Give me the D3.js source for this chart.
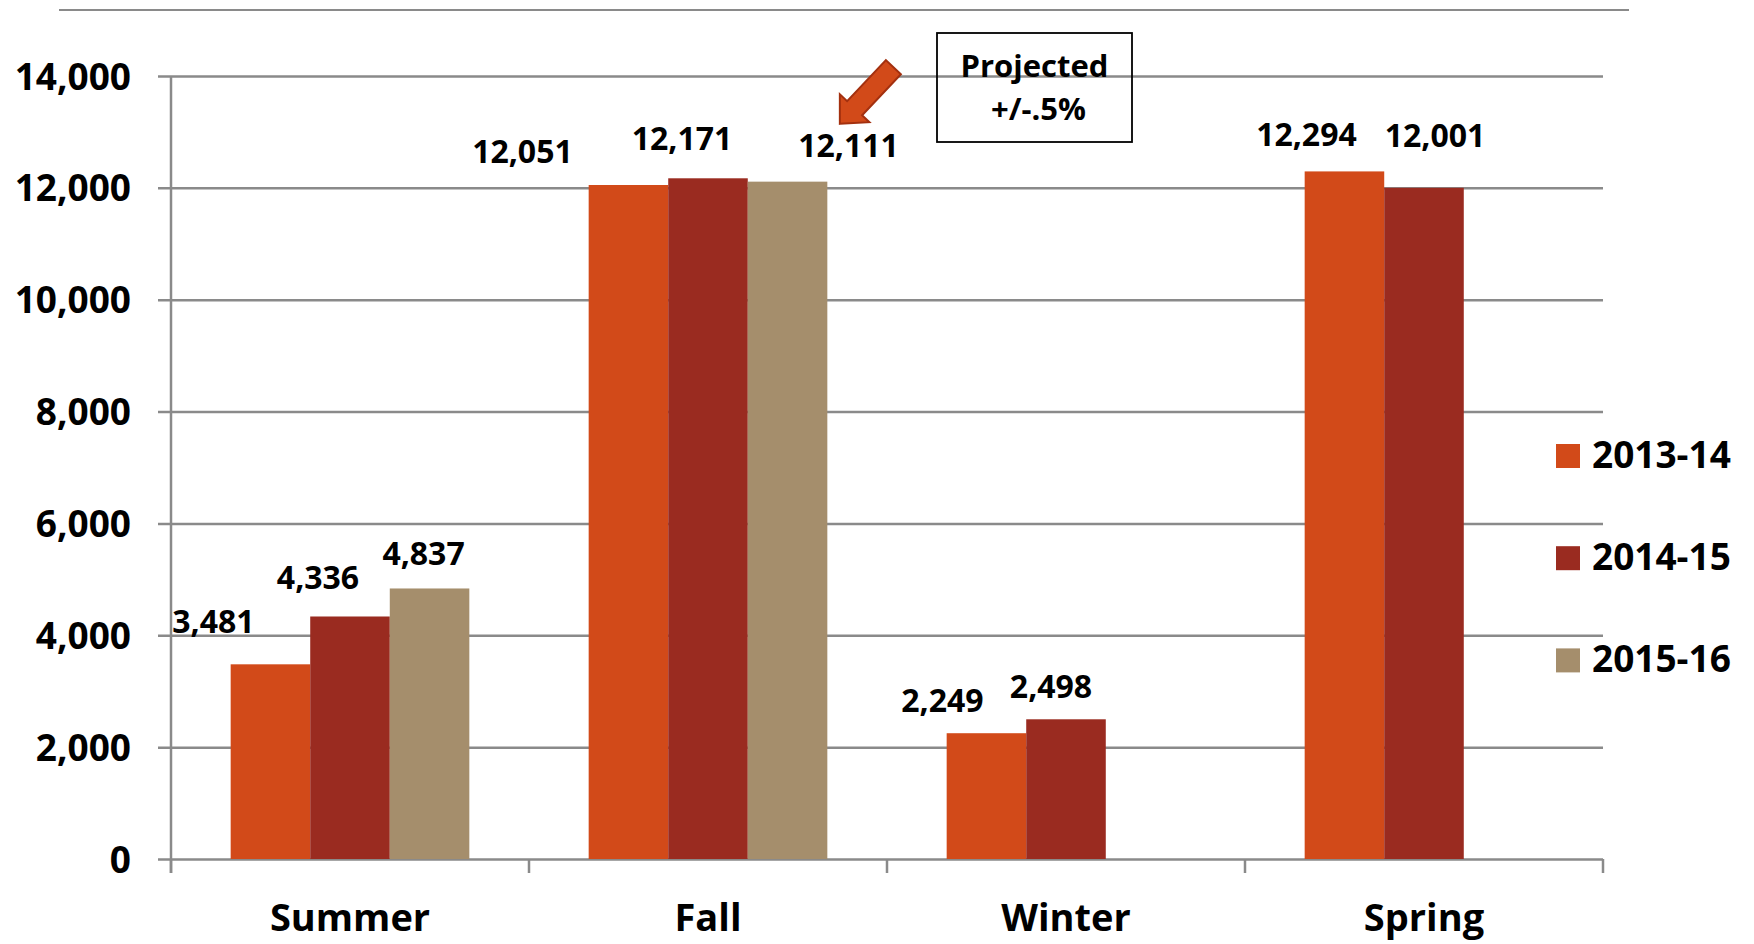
<!DOCTYPE html>
<html>
<head>
<meta charset="utf-8">
<script src="https://cdn.jsdelivr.net/npm/d3@7"></script>
<style>
  html, body { margin: 0; padding: 0; background: #fff; }
  svg { display: block; }
  text { font-family: 'Open Sans', 'Liberation Sans', sans-serif; font-weight: 700; fill: #000; }
</style>
</head>
<body>
<svg id="chart" width="1754" height="944"></svg>
<script>
// ---- data ----
const categories = ["Summer", "Fall", "Winter", "Spring"];
const seriesNames = ["2013-14", "2014-15", "2015-16"];
const values2013 = [3481, 12051, 2249, 12294];
const values2014 = [4336, 12171, 2498, 12001];
const values2015 = [4837, 12111, null, null];
const yTickValues = [0, 2000, 4000, 6000, 8000, 10000, 12000, 14000];
const annotationLines = ["Projected", "+/-.5%"];

// ---- layout (label nudges relative to bar centre / top, in px) ----
const nudge2013 = [[-57, -31], [-106, -22], [-44, -21], [-38, -25]];
const nudge2014 = [[-32, -27], [-26, -28], [-15, -21], [11, -41]];
const nudge2015 = [[-6, -23], [61, -25], null, null];
const colors = ["#D24A19", "#9A2B20", "#A58E6C"];

const seriesValues = [values2013, values2014, values2015];
const seriesNudges = [nudge2013, nudge2014, nudge2015];

const svg = d3.select("#chart");
const margin = { left: 171, right: 151, top: 76, bottom: 85 };
const W = 1754, H = 944;
const plotW = W - margin.left - margin.right;   // 1432
const plotH = H - margin.top - margin.bottom;   // 783

const x0 = d3.scaleBand().domain(categories).range([0, plotW]).padding(0);
const x1 = d3.scaleBand().domain(seriesNames).range([0, x0.bandwidth()])
  .paddingInner(0).paddingOuter(0.75);
const y = d3.scaleLinear().domain([0, 14000]).range([plotH, 0]);

const gridColor = "#8a8a8a";

// top rule
svg.append("line")
  .attr("x1", 59).attr("x2", 1629).attr("y1", 10).attr("y2", 10)
  .attr("stroke", gridColor).attr("stroke-width", 2);

const g = svg.append("g").attr("transform", `translate(${margin.left},${margin.top})`);

// y axis with gridlines
const yAxis = d3.axisLeft(y).tickValues(yTickValues)
  .tickSizeInner(-plotW).tickSizeOuter(0).tickPadding(40)
  .tickFormat(d3.format(","));
const yg = g.append("g").attr("class", "y-axis").call(yAxis);
yg.select(".domain").remove();
yg.selectAll(".tick line")
  .attr("x1", -13).attr("x2", plotW)
  .attr("stroke", gridColor).attr("stroke-width", 2.5);
yg.selectAll(".tick text")
  .attr("dy", null).attr("y", 13)
  .style("font-size", "37px").style("font-family", "'Open Sans', 'Liberation Sans', sans-serif")
  .style("font-weight", 700).attr("fill", "#000");

// vertical axis line
g.append("line")
  .attr("x1", 0).attr("x2", 0).attr("y1", y(14000)).attr("y2", plotH + 14)
  .attr("stroke", gridColor).attr("stroke-width", 2.5);

// x axis: labels via axisBottom, boundary ticks from band scale
const xAxis = d3.axisBottom(x0).tickSize(0).tickPadding(0);
const xg = g.append("g").attr("transform", `translate(0,${plotH})`).call(xAxis);
xg.select(".domain").remove();
xg.selectAll(".tick text")
  .attr("dy", null).attr("y", 72)
  .style("font-size", "38px").style("font-family", "'Open Sans', 'Liberation Sans', sans-serif")
  .style("font-weight", 700).attr("fill", "#000");
const boundaries = categories.map(c => x0(c)).concat([x0(categories[categories.length - 1]) + x0.bandwidth()]);
g.append("g").selectAll("line").data(boundaries).join("line")
  .attr("x1", d => d).attr("x2", d => d)
  .attr("y1", plotH).attr("y2", plotH + 14)
  .attr("stroke", gridColor).attr("stroke-width", 2.5);

// bars
seriesNames.forEach((s, si) => {
  const vals = seriesValues[si];
  const data = categories.map((c, ci) => ({ c, v: vals[ci], n: seriesNudges[si][ci] }))
    .filter(d => d.v != null);
  const sg = g.append("g");
  sg.selectAll("rect").data(data).join("rect")
    .attr("x", d => x0(d.c) + x1(s))
    .attr("width", x1.bandwidth())
    .attr("y", d => y(d.v))
    .attr("height", d => plotH - y(d.v))
    .attr("fill", colors[si]);
  sg.selectAll("text").data(data).join("text")
    .attr("x", d => x0(d.c) + x1(s) + x1.bandwidth() / 2 + d.n[0])
    .attr("y", d => y(d.v) + d.n[1])
    .attr("text-anchor", "middle")
    .style("font-size", "32px")
    .text(d => d3.format(",")(d.v));
});

// annotation box + arrow (anchored to the Fall 2015-16 bar / gridlines)
const boxLeft = x0("Winter") + 50, boxRight = x0("Winter") + 245;
const boxTop = y(14000) - 43, boxBottom = y(14000) + 66;
g.append("rect")
  .attr("x", boxLeft).attr("y", boxTop)
  .attr("width", boxRight - boxLeft).attr("height", boxBottom - boxTop)
  .attr("fill", "none").attr("stroke", "#000").attr("stroke-width", 1.8);
const boxCx = (boxLeft + boxRight) / 2;
g.append("text").attr("x", boxCx).attr("y", y(14000) + 0.5)
  .attr("text-anchor", "middle").style("font-size", "31px").text(annotationLines[0]);
g.append("text").attr("x", boxCx + 4).attr("y", y(14000) + 44)
  .attr("text-anchor", "middle").style("font-size", "31px").text(annotationLines[1]);

const tipX = x0("Fall") + x1("2015-16") + x1.bandwidth() / 2 + 52.3;
const tipY = y(12000) - 64;
// arrow pointing down-left
const ang = Math.atan2(-57, 53.8); // direction tip -> tail
const ux = Math.cos(ang), uy = Math.sin(ang);
const px = -uy, py = ux;
const headLen = 21.5, headHalf = 20.3, shaftHalf = 10.3, totalLen = 78;
const bx = tipX + ux * headLen, by = tipY + uy * headLen;
const ex = tipX + ux * totalLen, ey = tipY + uy * totalLen;
const arrowPts = [
  [tipX, tipY],
  [bx + px * headHalf, by + py * headHalf],
  [bx + px * shaftHalf, by + py * shaftHalf],
  [ex + px * shaftHalf, ey + py * shaftHalf],
  [ex - px * shaftHalf, ey - py * shaftHalf],
  [bx - px * shaftHalf, by - py * shaftHalf],
  [bx - px * headHalf, by - py * headHalf]
];
g.append("path")
  .attr("d", d3.line()(arrowPts) + "Z")
  .attr("fill", "#D24A19").attr("stroke", "#A3300F").attr("stroke-width", 2)
  .attr("stroke-linejoin", "miter");

// legend
const legend = svg.append("g").attr("transform", "translate(1556,444)");
seriesNames.forEach((s, i) => {
  const lg = legend.append("g").attr("transform", `translate(0,${i * 102.2})`);
  lg.append("rect").attr("width", 24).attr("height", 24).attr("fill", colors[i]);
  lg.append("text").attr("x", 36).attr("y", 24).style("font-size", "37px").text(s);
});
</script>
</body>
</html>
